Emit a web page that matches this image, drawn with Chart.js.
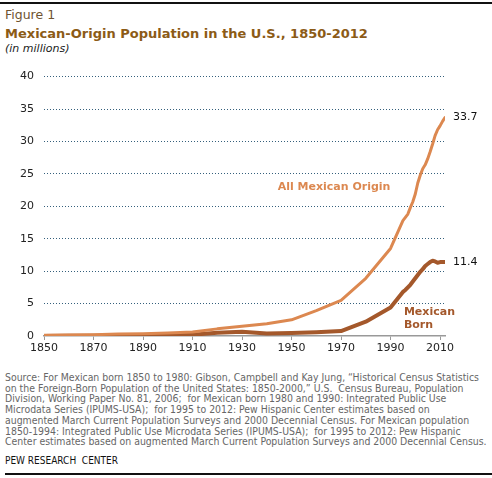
<!DOCTYPE html>
<html>
<head>
<meta charset="utf-8">
<script src="https://cdn.jsdelivr.net/npm/chart.js@4"></script>
<style>
  body { margin: 0; background: #fff; }
  #wrap { position: relative; width: 492px; height: 478px; overflow: hidden; background: #fff; font-family: "DejaVu Sans", Verdana, sans-serif; }
  .rule { position: absolute; height: 2px; background: #111; }
  #fig { position: absolute; left: 5px; top: 8px; font-size: 12.5px; line-height: 14px; color: #6e5331; }
  #title { position: absolute; left: 5px; top: 26px; font-size: 13px; line-height: 15px; font-weight: bold; color: #8c5b16; white-space: nowrap; }
  #unit { position: absolute; left: 5px; top: 42px; font-size: 11px; line-height: 13px; font-style: italic; color: #222; }
  #chartBox { position: absolute; left: 0; top: 60px; width: 492px; height: 300px; }
  #source { position: absolute; left: 5px; top: 372px; font-family: "DejaVu Sans Condensed", "DejaVu Sans", sans-serif; font-size: 10.4px; line-height: 10.7px; color: #666; white-space: nowrap; }
  #pew { position: absolute; left: 5px; top: 455px; font-family: "DejaVu Sans Condensed", sans-serif; font-size: 10px; line-height: 12px; color: #111; }
</style>
</head>
<body>
<div id="wrap">
  <div class="rule" style="left:0;top:2px;width:492px"></div>
  <div id="fig">Figure 1</div>
  <div id="title">Mexican-Origin Population in the U.S., 1850-2012</div>
  <div id="unit">(in millions)</div>
  <div id="chartBox"><canvas id="chart"></canvas></div>
  <div id="source"></div>
  <div id="pew">PEW RESEARCH&nbsp; CENTER</div>
  <div class="rule" style="left:5px;top:473px;width:487px"></div>
</div>
<script>
// Años (decenales hasta 1990, luego anuales)
const years = [1850, 1860, 1870, 1880, 1890, 1900, 1910, 1920, 1930, 1940, 1950, 1960, 1970, 1980, 1990,
  1995, 1996, 1997, 1998, 1999, 2000, 2001, 2002, 2003, 2004, 2005, 2006, 2007, 2008, 2009, 2010, 2011, 2012];

// Población de origen mexicano (millones)
const allOrigin = [0.1, 0.15, 0.2, 0.3, 0.35, 0.45, 0.6, 1.1, 1.5, 1.9, 2.5, 3.9, 5.5, 8.9, 13.5,
  17.8, 18.3, 18.8, 19.8, 20.7, 21.9, 23.6, 24.8, 25.8, 26.4, 27.3, 28.4, 29.6, 30.9, 31.8, 32.4, 33.1, 33.7];

// Nacidos en México (millones)
const mexicanBorn = [0.01, 0.03, 0.04, 0.07, 0.08, 0.1, 0.2, 0.5, 0.64, 0.38, 0.45, 0.58, 0.76, 2.2, 4.4,
  6.8, 7.1, 7.5, 7.9, 8.4, 8.9, 9.4, 9.9, 10.3, 10.8, 11.1, 11.4, 11.6, 11.5, 11.3, 11.4, 11.4, 11.4];

const xTickYears = [1850, 1870, 1890, 1910, 1930, 1950, 1970, 1990, 2010];
const yTickValues = [0, 5, 10, 15, 20, 25, 30, 35, 40];

const sourceLines = [
  'Source: For Mexican born 1850 to 1980: Gibson, Campbell and Kay Jung, \u201cHistorical Census Statistics',
  'on the Foreign-Born Population of the United States: 1850-2000,\u201d U.S.  Census Bureau, Population',
  'Division, Working Paper No. 81, 2006;  for Mexican born 1980 and 1990: Integrated Public Use',
  'Microdata Series (IPUMS-USA);  for 1995 to 2012: Pew Hispanic Center estimates based on',
  'augmented March Current Population Surveys and 2000 Decennial Census. For Mexican population',
  '1850-1994: Integrated Public Use Microdata Series (IPUMS-USA);  for 1995 to 2012: Pew Hispanic',
  'Center estimates based on augmented March Current Population Surveys and 2000 Decennial Census.'
];

const ORIGIN_COLOR = '#dc8850';
const BORN_COLOR = '#a4582b';

// Nota de fuente
const sourceEl = document.getElementById('source');
sourceEl.innerHTML = sourceLines.map(l => `<div>${l.replace(/  /g, ' &nbsp;')}</div>`).join('');

const toPoints = (vals) => vals.map((v, i) => ({ x: years[i], y: v }));

// Etiquetas sobre el gráfico
const labelsPlugin = {
  id: 'labels',
  afterDatasetsDraw(chart) {
    const { ctx, scales: { x, y } } = chart;
    ctx.save();
    ctx.textBaseline = 'middle';
    ctx.textAlign = 'left';

    // valores finales
    ctx.font = '11px "DejaVu Sans"';
    ctx.fillStyle = '#111';
    const last = years.length - 1;
    ctx.fillText(allOrigin[last].toFixed(1), x.getPixelForValue(years[last]) + 8, y.getPixelForValue(allOrigin[last]));
    ctx.fillText(mexicanBorn[last].toFixed(1), x.getPixelForValue(years[last]) + 8, y.getPixelForValue(mexicanBorn[last]));

    // nombres de las series
    ctx.font = 'bold 11px "DejaVu Sans"';
    ctx.fillStyle = ORIGIN_COLOR;
    ctx.fillText('All Mexican Origin', x.getPixelForValue(1944.4), y.getPixelForValue(22.9));
    ctx.fillStyle = BORN_COLOR;
    ctx.fillText('Mexican', x.getPixelForValue(1995.4), y.getPixelForValue(3.7));
    ctx.fillText('Born', x.getPixelForValue(1995.4), y.getPixelForValue(1.7));
    ctx.restore();
  }
};

new Chart(document.getElementById('chart'), {
  type: 'line',
  data: {
    datasets: [
      {
        label: 'All Mexican Origin',
        data: toPoints(allOrigin),
        borderColor: ORIGIN_COLOR,
        borderWidth: 3,
        pointRadius: 0,
        tension: 0,
        borderJoinStyle: 'round',
        borderCapStyle: 'round'
      },
      {
        label: 'Mexican Born',
        data: toPoints(mexicanBorn),
        borderColor: BORN_COLOR,
        borderWidth: 4,
        pointRadius: 0,
        tension: 0,
        borderJoinStyle: 'round',
        borderCapStyle: 'round'
      }
    ]
  },
  options: {
    responsive: true,
    maintainAspectRatio: false,
    animation: false,
    layout: { padding: { top: 16, right: 47, left: 0, bottom: 0 } },
    plugins: { legend: { display: false }, tooltip: { enabled: false } },
    scales: {
      x: {
        type: 'linear',
        min: 1850,
        max: 2012,
        afterBuildTicks: (scale) => { scale.ticks = xTickYears.map(v => ({ value: v })); },
        afterFit: (scale) => { scale.height = 24; },
        grid: { drawOnChartArea: false, drawTicks: true, tickLength: 4, color: '#999' },
        border: { display: true, color: '#999', width: 1.5 },
        ticks: {
          autoSkip: false,
          maxRotation: 0,
          padding: 2,
          color: '#222',
          font: { family: '"DejaVu Sans"', size: 11 },
          callback: (v) => String(v)
        }
      },
      y: {
        min: 0,
        max: 40,
        afterBuildTicks: (scale) => { scale.ticks = yTickValues.map(v => ({ value: v })); },
        afterFit: (scale) => { scale.width = 44; },
        grid: {
          drawTicks: false,
          lineWidth: 1,
          color: (c) => c.tick && c.tick.value === 0 ? 'rgba(0,0,0,0)' : '#35607c'
        },
        border: { display: false, dash: [1, 2] },
        ticks: {
          padding: 10,
          color: '#222',
          font: { family: '"DejaVu Sans"', size: 11 }
        }
      }
    }
  },
  plugins: [labelsPlugin]
});
</script>
</body>
</html>
